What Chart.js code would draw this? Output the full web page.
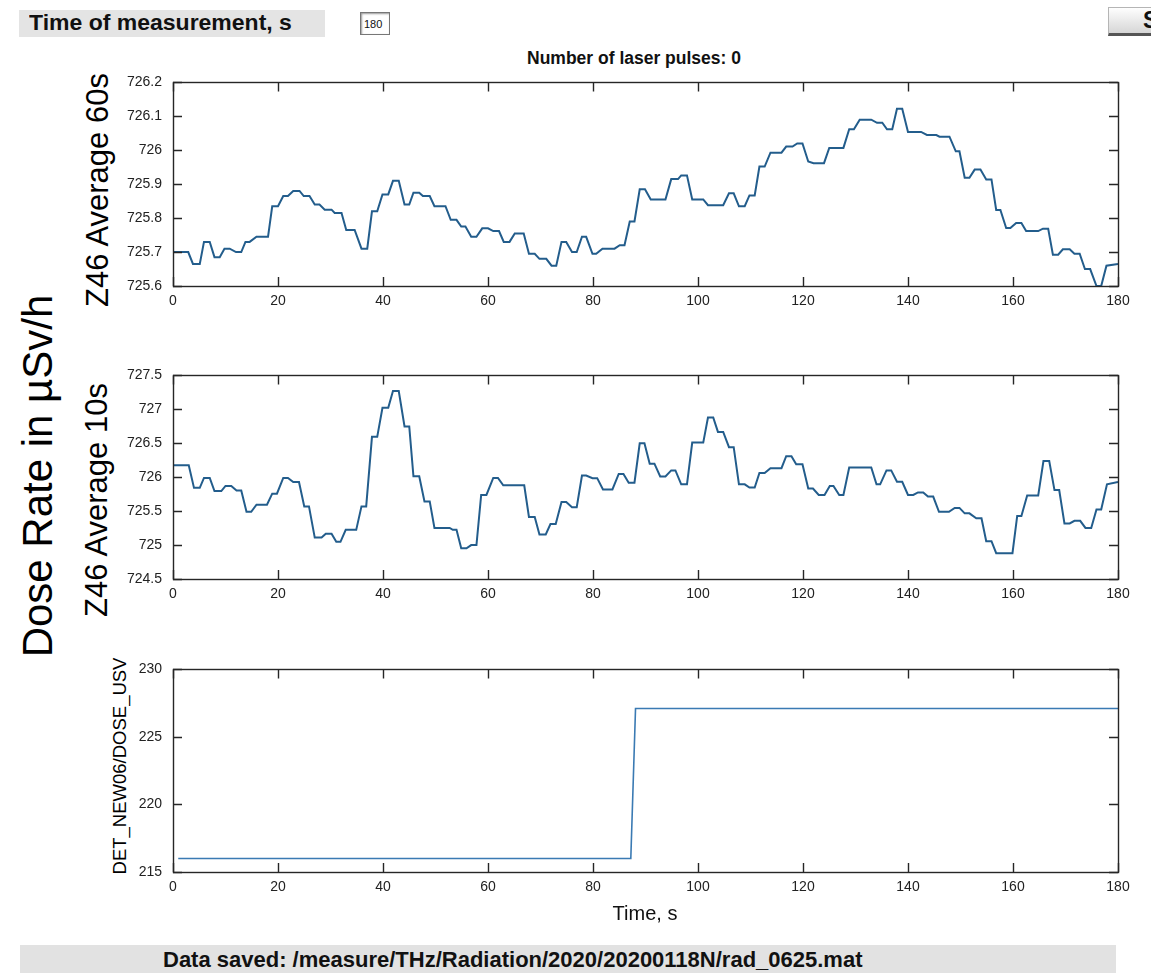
<!DOCTYPE html>
<html>
<head>
<meta charset="utf-8">
<title>Radiation monitor</title>
<script src="https://cdn.jsdelivr.net/npm/chart.js@4.4.1/dist/chart.umd.min.js"></script>
<style>
  html, body { margin: 0; padding: 0; background: #fff; }
  body { width: 1151px; height: 973px; position: relative; overflow: hidden;
         font-family: "Liberation Sans", Arial, Helvetica, sans-serif; color: #111; }
  .abs { position: absolute; }
  .rot { position: absolute; transform: translate(-50%, -50%) rotate(-90deg);
         white-space: nowrap; line-height: 1; color: #000; }
  .cond { font-family: "Liberation Sans Narrow", "Liberation Sans", Arial, sans-serif; font-weight: bold; }
  canvas { position: absolute; }
  #hdrBox { left: 19px; top: 10px; width: 306px; height: 27px; background: #e4e4e4; }
  #hdrText { left: 29px; top: 10px; height: 27px; line-height: 27px; font-size: 23px;
             transform: scaleY(0.92); transform-origin: left center; white-space: nowrap; }
  #hdrInput { left: 360px; top: 12px; width: 30px; height: 23px; border: 1px solid #777;
              box-shadow: inset 1px 1px 2px #999; background: #fff; font-size: 11px; line-height: 23px;
              padding-left: 3px; box-sizing: border-box; }
  #btn { left: 1108px; top: 7px; width: 70px; height: 29px; box-sizing: border-box;
         background: linear-gradient(#fefefe, #d6d6d6); border: 1px solid #b5b5b5; border-bottom: 3px solid #555;
         font-size: 23px; line-height: 25px; padding-left: 34px; }
  #title { left: 634px; top: 58px; transform: translate(-50%, -50%); font-size: 17.5px; white-space: nowrap; }
  #footBar { left: 20px; top: 945px; width: 1096px; height: 28px; background: #e2e2e2; }
  #footText { left: 163px; top: 945px; height: 28px; line-height: 29px; font-size: 22px; white-space: nowrap; }
  #xTitle { left: 645px; top: 913px; transform: translate(-50%, -50%); font-size: 20px; white-space: nowrap; }
</style>
</head>
<body>

<div id="hdrBox" class="abs"></div>
<div id="hdrText" class="abs cond">Time of measurement, s</div>
<div id="hdrInput" class="abs">180</div>
<div id="btn" class="abs cond">S</div>
<div id="title" class="abs cond">Number of laser pulses: 0</div>

<div class="rot" style="left:38px; top:476px; font-size:42px;">Dose Rate in µSv/h</div>
<div class="rot" style="left:97px; top:190px; font-size:31px;">Z46 Average 60s</div>
<div class="rot" style="left:96px; top:500px; font-size:31px;">Z46 Average 10s</div>
<div class="rot" style="left:120px; top:766px; font-size:18.5px;">DET_NEW06/DOSE_USV</div>

<canvas id="pAvg60" width="1048" height="253" style="left:103px; top:63px;"></canvas>
<canvas id="pAvg10" width="1048" height="253" style="left:103px; top:356px;"></canvas>
<canvas id="pDose" width="1048" height="252" style="left:103px; top:650px;"></canvas>

<div id="xTitle" class="abs">Time, s</div>
<div id="footBar" class="abs"></div>
<div id="footText" class="abs cond">Data saved: /measure/THz/Radiation/2020/20200118N/rad_0625.mat</div>

<script>
// ---- Z46, 60 s running average (µSv/h) ----
const avg60Time = [0,2.9,3.8,5.1,5.9,7.0,7.9,8.9,9.8,10.8,12.0,13.0,13.8,14.6,15.9,18.1,18.9,20.0,21.0,21.9,
  22.9,24.1,24.9,26.0,27.0,27.9,28.9,30.2,30.8,32.1,33.0,34.6,35.9,37.0,37.9,38.9,39.9,41.0,41.9,43.0,
  44.1,45.0,45.8,46.9,47.6,48.9,49.8,51.9,52.9,54.0,54.9,55.7,56.8,57.8,58.9,60.0,61.0,62.1,63.0,64.1,
  65.1,66.8,67.8,68.9,69.8,71.1,72.1,73.0,74.0,74.9,76.0,76.9,77.9,78.7,79.9,80.6,81.8,84.1,85.1,86.0,
  87.0,87.9,88.9,89.9,91.0,93.8,94.9,96.2,96.8,97.9,98.9,101.0,101.9,104.8,105.9,106.8,107.8,108.9,109.8,110.8,
  111.7,112.7,113.8,115.9,116.8,118.0,118.9,119.9,121.0,122.0,124.0,125.0,127.7,128.8,129.7,130.8,133.0,134.1,135.1,136.0,
  137.0,137.9,138.9,140.0,142.5,143.6,145.4,146.0,147.9,149.1,149.8,150.8,151.7,152.7,153.8,154.9,155.9,156.8,157.6,158.7,
  159.5,160.6,161.6,162.5,164.8,165.7,166.7,167.6,168.6,169.5,170.8,171.7,172.7,173.7,174.7,175.9,176.8,177.8,180];
const avg60Dose = [725.70,725.70,725.665,725.665,725.73,725.73,725.685,725.685,725.71,725.71,725.70,725.70,725.73,725.73,725.745,725.745,725.835,725.835,725.865,725.865,
  725.88,725.88,725.865,725.865,725.84,725.84,725.825,725.825,725.815,725.815,725.765,725.765,725.71,725.71,725.82,725.82,725.87,725.87,725.91,725.91,
  725.84,725.84,725.875,725.875,725.865,725.865,725.835,725.835,725.795,725.795,725.775,725.775,725.745,725.745,725.77,725.77,725.762,725.762,725.73,725.73,
  725.755,725.755,725.695,725.695,725.68,725.68,725.66,725.66,725.73,725.73,725.70,725.70,725.745,725.745,725.695,725.695,725.71,725.71,725.72,725.72,
  725.79,725.79,725.885,725.885,725.855,725.855,725.915,725.915,725.926,725.926,725.855,725.855,725.838,725.838,725.873,725.873,725.835,725.835,725.867,725.867,
  725.952,725.952,725.993,725.993,726.011,726.011,726.02,726.02,725.967,725.962,725.962,726.007,726.007,726.062,726.062,726.09,726.09,726.081,726.081,726.062,
  726.062,726.122,726.122,726.054,726.054,726.045,726.045,726.04,726.04,725.997,725.997,725.919,725.919,725.943,725.943,725.914,725.914,725.824,725.824,725.771,
  725.771,725.786,725.786,725.762,725.762,725.769,725.769,725.692,725.692,725.708,725.708,725.695,725.695,725.65,725.65,725.6,725.6,725.66,725.665];

// ---- Z46, 10 s running average (µSv/h) ----
const avg10Time = [0,3.0,4.0,5.1,5.9,7.0,7.9,9.2,10.0,11.1,12.1,13.0,14.0,14.9,15.9,17.9,18.9,19.8,21.0,21.9,
  22.9,24.0,25.0,25.9,27.0,28.3,29.1,30.2,31.1,31.9,32.9,34.9,35.9,36.8,37.9,38.9,39.9,41.0,41.9,43.0,
  44.1,45.0,45.8,46.9,47.9,48.9,49.8,52.7,53.3,54.0,54.9,55.9,56.8,57.8,58.7,59.7,61.0,61.9,62.9,66.9,
  67.8,68.9,69.8,71.0,71.9,72.9,74.0,74.9,76.0,76.9,77.9,78.7,79.9,80.8,81.9,83.7,84.9,85.8,86.8,87.9,
  88.9,89.8,90.8,91.7,92.8,93.8,94.9,95.7,96.8,97.9,98.9,101.0,101.9,102.9,103.8,104.8,105.9,106.8,107.8,108.9,
  109.8,110.8,111.7,112.7,113.8,115.9,116.8,117.8,118.7,119.9,121.0,121.9,123.0,124.1,125.1,125.8,126.9,127.7,128.8,133.0,
  134.0,134.7,135.9,136.8,137.9,138.9,140.0,141.0,141.9,142.9,143.8,144.8,145.9,147.8,148.9,149.8,150.8,151.7,153.0,154.0,
  154.9,155.9,156.8,159.9,160.8,161.6,162.7,164.8,165.8,166.9,167.9,168.8,169.8,170.8,171.7,172.8,173.8,174.9,175.9,176.8,
  177.9,180];
const avg10Dose = [726.176,726.176,725.843,725.843,725.99,725.99,725.795,725.795,725.871,725.871,725.805,725.805,725.49,725.49,725.595,725.595,725.757,725.757,725.99,725.99,
  725.93,725.93,725.57,725.57,725.11,725.11,725.167,725.167,725.048,725.048,725.224,725.224,725.57,725.57,726.595,726.595,727.024,727.024,727.27,727.27,
  726.748,726.748,726.014,726.014,725.643,725.643,725.252,725.252,725.224,725.224,724.952,724.952,725.0,725.0,725.738,725.738,725.99,725.99,725.88,725.88,
  725.414,725.414,725.157,725.157,725.31,725.31,725.633,725.633,725.557,725.557,726.024,726.024,725.986,725.986,725.819,725.819,726.048,726.048,725.919,725.919,
  726.5,726.5,726.2,726.2,726.01,726.01,726.1,726.1,725.895,725.895,726.51,726.51,726.88,726.88,726.667,726.667,726.443,726.443,725.895,725.895,
  725.848,725.848,726.062,726.062,726.133,726.133,726.31,726.31,726.19,726.19,725.833,725.833,725.738,725.738,725.871,725.871,725.738,725.738,726.143,726.143,
  725.895,725.895,726.1,726.1,725.933,725.933,725.738,725.738,725.776,725.776,725.714,725.714,725.49,725.49,725.548,725.548,725.467,725.467,725.395,725.395,
  725.057,725.057,724.881,724.881,725.429,725.429,725.729,725.729,726.238,726.238,725.81,725.81,725.319,725.319,725.357,725.357,725.252,725.252,725.524,725.524,
  725.895,725.93];

// ---- DET_NEW06 dose channel ----
const detTime = [1, 87.2, 88.1, 180];
const detDose = [216.0, 216.0, 227.1, 227.1];

// ---- axis settings ----
const timeRange = [0, 180];
const timeStep = 20;
const avg60Range = [725.6, 726.2];
const avg60Step = 0.1;
const avg10Range = [724.5, 727.5];
const avg10Step = 0.5;
const detRange = [215, 230];
const detStep = 5;

const tickFont = { family: '"Liberation Sans", Arial, sans-serif', size: 14 };

// Closed axes box with inward tick marks on all four sides
const axesBox = {
  id: 'axesBox',
  afterDatasetsDraw(chart) {
    const { ctx, chartArea: a, scales: { x, y } } = chart;
    const len = 9;
    ctx.save();
    ctx.strokeStyle = '#262626';
    ctx.lineWidth = 1.4;
    ctx.beginPath();
    x.ticks.forEach(t => {
      const px = Math.round(x.getPixelForValue(t.value)) + 0.5;
      ctx.moveTo(px, a.bottom); ctx.lineTo(px, a.bottom - len);
      ctx.moveTo(px, a.top); ctx.lineTo(px, a.top + len);
    });
    y.ticks.forEach(t => {
      const py = Math.round(y.getPixelForValue(t.value)) + 0.5;
      ctx.moveTo(a.left, py); ctx.lineTo(a.left + len, py);
      ctx.moveTo(a.right, py); ctx.lineTo(a.right - len, py);
    });
    ctx.stroke();
    ctx.strokeRect(Math.round(a.left) + 0.5, Math.round(a.top) + 0.5,
                   Math.round(a.right - a.left), Math.round(a.bottom - a.top));
    ctx.restore();
  }
};

function panel(id, times, values, range, step, color, width) {
  return new Chart(document.getElementById(id), {
    type: 'line',
    data: {
      datasets: [{
        data: times.map((t, i) => ({ x: t, y: values[i] })),
        borderColor: color,
        borderWidth: width,
        pointRadius: 0,
        tension: 0,
        fill: false
      }]
    },
    options: {
      responsive: false,
      animation: false,
      events: [],
      layout: { padding: { top: 12, right: 33, left: 0, bottom: 0 } },
      plugins: { legend: { display: false }, tooltip: { enabled: false } },
      scales: {
        x: {
          type: 'linear', min: timeRange[0], max: timeRange[1],
          grid: { display: false, drawTicks: false },
          border: { display: false },
          ticks: { stepSize: timeStep, padding: 7, color: '#222', font: tickFont, maxRotation: 0, autoSkip: false },
          afterFit(s) { s.height = 30; }
        },
        y: {
          type: 'linear', min: range[0], max: range[1],
          grid: { display: false, drawTicks: false },
          border: { display: false },
          ticks: { stepSize: step, padding: 11, color: '#222', font: tickFont, autoSkip: false,
                   callback: v => String(Math.round(v * 10) / 10) },
          afterFit(s) { s.width = 70; }
        }
      }
    },
    plugins: [axesBox]
  });
}

panel('pAvg60', avg60Time, avg60Dose, avg60Range, avg60Step, '#235d8c', 2);
panel('pAvg10', avg10Time, avg10Dose, avg10Range, avg10Step, '#235d8c', 2);
panel('pDose', detTime, detDose, detRange, detStep, '#3a7ab3', 1.6);
</script>
</body>
</html>
